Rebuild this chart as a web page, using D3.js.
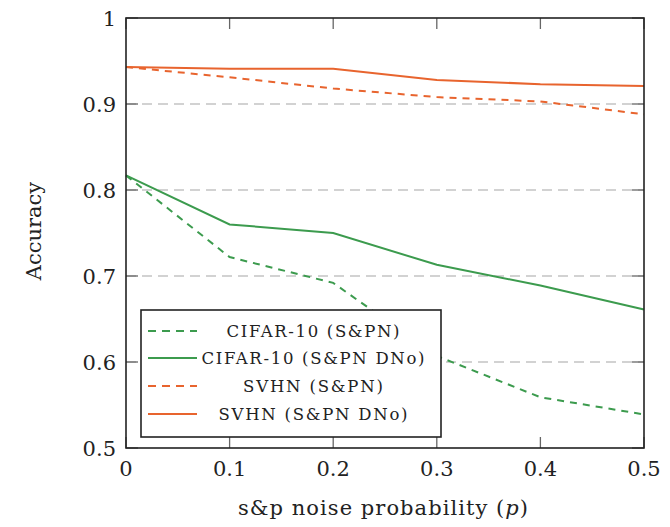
<!DOCTYPE html>
<html><head><meta charset="utf-8">
<script src="https://cdn.jsdelivr.net/npm/d3@7"></script>
<style>body{margin:0;background:#fff}</style>
</head><body>
<svg id="c" width="670" height="527"></svg>
<script>
const pValues = [0, 0.1, 0.2, 0.3, 0.4, 0.5];
const cifarSP   = [0.817, 0.722, 0.692, 0.607, 0.559, 0.539];
const cifarSPDN = [0.817, 0.760, 0.750, 0.713, 0.689, 0.661];
const svhnSP    = [0.943, 0.931, 0.918, 0.908, 0.903, 0.888];
const svhnSPDN  = [0.943, 0.941, 0.941, 0.928, 0.923, 0.921];
const seriesNames = ["CIFAR-10 (S&PN)", "CIFAR-10 (S&PN DNo)", "SVHN (S&PN)", "SVHN (S&PN DNo)"];
const xTicks = [0, 0.1, 0.2, 0.3, 0.4, 0.5];
const yTicks = [0.5, 0.6, 0.7, 0.8, 0.9, 1];
const xTickLabels = ["0", "0.1", "0.2", "0.3", "0.4", "0.5"];
const yTickLabels = ["0.5", "0.6", "0.7", "0.8", "0.9", "1"];

const GREEN = "#3c9b4e", ORANGE = "#e8642e";
const series = [
  {name: seriesNames[0], values: cifarSP, color: GREEN, dash: "7,6"},
  {name: seriesNames[1], values: cifarSPDN, color: GREEN, dash: null},
  {name: seriesNames[2], values: svhnSP, color: ORANGE, dash: "7,6"},
  {name: seriesNames[3], values: svhnSPDN, color: ORANGE, dash: null}
];

const L = 126, R = 644, T = 18, B = 448;
const svg = d3.select("#c");
const x = d3.scaleLinear().domain([0, 0.5]).range([L, R]);
const y = d3.scaleLinear().domain([0.5, 1]).range([B, T]);
const serif = "'DejaVu Serif', 'Liberation Serif', serif";

// grid
svg.append("g").selectAll("line").data([0.6, 0.7, 0.8, 0.9]).join("line")
  .attr("x1", L).attr("x2", R).attr("y1", d => y(d)).attr("y2", d => y(d))
  .attr("stroke", "#c4c4c4").attr("stroke-width", 1.3).attr("stroke-dasharray", "10,6");

// inner ticks
const tk = svg.append("g").attr("stroke", "#666").attr("stroke-width", 1.3);
xTicks.forEach(v => {
  tk.append("line").attr("x1", x(v)).attr("x2", x(v)).attr("y1", B).attr("y2", B - 11);
  tk.append("line").attr("x1", x(v)).attr("x2", x(v)).attr("y1", T).attr("y2", T + 11);
});
yTicks.forEach(v => {
  tk.append("line").attr("y1", y(v)).attr("y2", y(v)).attr("x1", L).attr("x2", L + 12);
  tk.append("line").attr("y1", y(v)).attr("y2", y(v)).attr("x1", R).attr("x2", R - 12);
});

// data lines
const line = d3.line().x((d, i) => x(pValues[i])).y(d => y(d));
series.forEach(s => {
  svg.append("path").attr("d", line(s.values)).attr("fill", "none")
    .attr("stroke", s.color).attr("stroke-width", 2)
    .attr("stroke-dasharray", s.dash);
});

// frame
svg.append("rect").attr("x", L).attr("y", T).attr("width", R - L).attr("height", B - T)
  .attr("fill", "none").attr("stroke", "#222").attr("stroke-width", 1.6);

// tick labels
svg.append("g").selectAll("text").data(xTicks).join("text")
  .attr("x", d => x(d)).attr("y", 476).attr("text-anchor", "middle")
  .attr("font-family", serif).attr("font-size", 21).attr("fill", "#222")
  .text((d, i) => xTickLabels[i]);
svg.append("g").selectAll("text").data(yTicks).join("text")
  .attr("x", 116).attr("y", d => y(d) + 8).attr("text-anchor", "end")
  .attr("font-family", serif).attr("font-size", 21).attr("fill", "#222")
  .text((d, i) => yTickLabels[i]);

// axis titles
svg.append("text").attr("transform", "translate(41,231) rotate(-90)")
  .attr("text-anchor", "middle").attr("font-family", serif).attr("font-size", 21)
  .attr("fill", "#222").text("Accuracy");
const xt = svg.append("text").attr("x", 383).attr("y", 515).attr("text-anchor", "middle")
  .attr("font-family", serif).attr("font-size", 21).attr("fill", "#222")
  .attr("textLength", 290).attr("lengthAdjust", "spacing");
xt.append("tspan").text("s&p noise probability (");
xt.append("tspan").attr("font-style", "italic").text("p");
xt.append("tspan").text(")");

// legend
const lg = svg.append("g");
lg.append("rect").attr("x", 141).attr("y", 310).attr("width", 300).attr("height", 127)
  .attr("fill", "#fff").attr("stroke", "#222").attr("stroke-width", 1.6);
const rowY = [331, 358, 386, 414];
const textW = [173, 223, 140, 189];
series.forEach((s, i) => {
  lg.append("line").attr("x1", 148).attr("x2", 197).attr("y1", rowY[i]).attr("y2", rowY[i])
    .attr("stroke", s.color).attr("stroke-width", 2).attr("stroke-dasharray", s.dash ? "8,6" : null);
  lg.append("text").attr("x", 313).attr("y", rowY[i] + 6).attr("text-anchor", "middle")
    .attr("font-family", serif).attr("font-size", 16.5).attr("fill", "#222")
    .attr("textLength", textW[i]).attr("lengthAdjust", "spacing")
    .text(s.name);
});
</script>
</body></html>
